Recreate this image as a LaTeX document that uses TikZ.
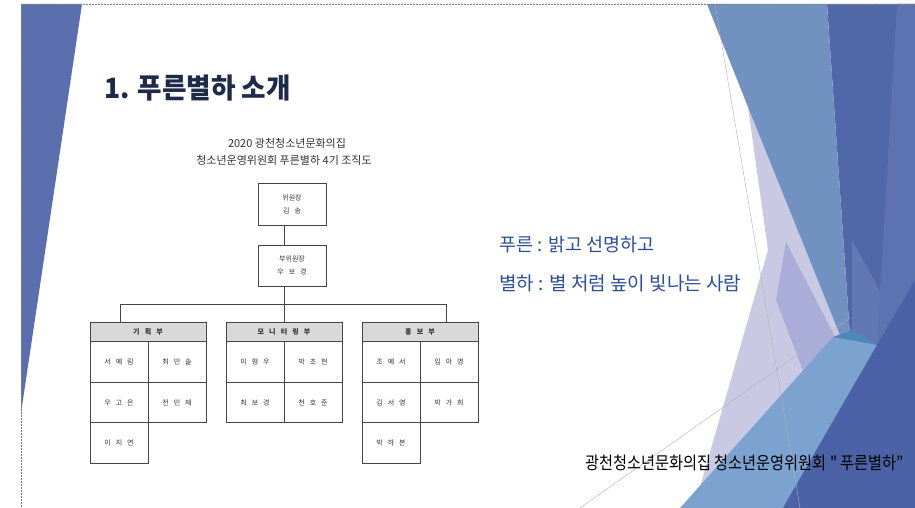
\documentclass[tikz,border=0pt]{standalone}
\usepackage{fontspec}
\setmainfont{Noto Sans CJK KR}
\newfontfamily\krnarrow[FakeStretch=0.87]{Noto Sans CJK KR}
\newfontfamily\krtitle[FakeStretch=0.95]{Noto Sans CJK KR}
\newfontfamily\chartfont[WordSpace=3.2]{Noto Sans CJK KR}
\definecolor{leftblue}{HTML}{5B6EAE}
\definecolor{fdark}{HTML}{5068A8}
\definecolor{fmed}{HTML}{6178B4}
\definecolor{fstrip}{HTML}{5D72B0}
\definecolor{flav}{HTML}{C9C9E3}
\definecolor{fmidlav}{HTML}{A9ADD7}
\definecolor{flblue}{HTML}{7191C1}
\definecolor{fteal}{HTML}{4F87B9}
\definecolor{fbotlb}{HTML}{7CA2D0}
\definecolor{fdk}{HTML}{4B63A6}
\definecolor{titlecol}{HTML}{1E2A4A}
\definecolor{bluetext}{HTML}{2D4D9C}
\definecolor{boxline}{HTML}{454545}
\definecolor{headfill}{HTML}{D9D9D9}
\definecolor{charttext}{HTML}{333333}
\tikzset{
  thinline/.style={draw=gray!60, line width=0.4pt},
  orgbox/.style={draw=boxline, line width=0.8pt, fill=white, inner sep=0pt,
    align=center, text=charttext, font=\chartfont\fontsize{7}{11}\selectfont},
  headbox/.style={orgbox, fill=headfill, minimum width=116pt, minimum height=20pt,
    font=\chartfont\bfseries\fontsize{7}{9}\selectfont},
  cellbox/.style={orgbox, minimum width=58pt, minimum height=40.5pt},
  conn/.style={draw=boxline, line width=0.9pt},
}
\begin{document}
\begin{tikzpicture}[x=1pt,y=-1pt]
\useasboundingbox (0,0) rectangle (915,508);
\fill[white] (0,0) rectangle (915,508);
% left facet
\fill[leftblue] (21,4) -- (82,4) -- (21,413) -- cycle;
% right facets
\fill[fdark] (827,4) -- (915,4) -- (915,508) -- (783,508) -- (852,365) -- cycle;
\fill[fmed] (852,240) -- (885,300) -- (870,420) -- (852,365) -- cycle;
\fill[fstrip] (897,4) -- (915,4) -- (915,290) -- (877,345) -- cycle;
\fill[flav] (748,107) -- (852,365) -- (790,440) -- (694,508) -- (768,250) -- cycle;
\fill[flblue] (707,4) -- (827,4) -- (852,365) -- (748,107) -- cycle;
\fill[fmidlav] (786,242) -- (848,362) -- (815,402) -- (776,300) -- cycle;
\fill[fteal] (833,337) -- (852,330) -- (877,345) -- (858,372) -- cycle;
\fill[fbotlb] (680,508) -- (833,337) -- (877,345) -- (783,508) -- cycle;
\fill[fdk] (783,508) -- (877,345) -- (915,280) -- (915,508) -- cycle;
\draw[thinline] (715,4) -- (800,508);
\draw[thinline] (580,508) -- (850,318);
\draw[densely dotted, gray, line width=0.5pt] (21,508) -- (21,4) -- (915,4);

% title
\node[anchor=west, inner sep=0pt, text=titlecol, font=\krtitle\bfseries\fontsize{28}{31}\selectfont] (title) at (104,88) {1. 푸른별하 소개};

% chart heading
\node[text=charttext, inner sep=0pt, font=\fontsize{11}{13}\selectfont] (head1) at (287,143) {2020 광천청소년문화의집};
\node[text=charttext, inner sep=0pt, font=\fontsize{11}{13}\selectfont] (head2) at (284,160) {청소년운영위원회 푸른별하 4기 조직도};

% top boxes
\node[orgbox, minimum width=68pt, minimum height=42pt] (chair) at (292,204) {위원장\\[2pt]김 송};
\node[orgbox, minimum width=68pt, minimum height=41pt] (vice) at (292,265.5) {부위원장\\[2pt]우 보 경};

% junction coordinates
\coordinate (hub) at (284,304);
\coordinate (jl) at (120,304);
\coordinate (jr) at (446,304);

% department headers
\node[headbox] (d1) at (148,332) {기 획 부};
\node[headbox] (d2) at (284,332) {모 니 터 링 부};
\node[headbox] (d3) at (420,332) {홍 보 부};

% connectors
\draw[conn] (chair.south -| hub) -- (vice.north -| hub);
\draw[conn] (vice.south -| hub) -- (hub);
\draw[conn] (jl) -- (jr);
\draw[conn] (jl) -- (d1.north -| jl);
\draw[conn] (hub) -- (d2.north);
\draw[conn] (jr) -- (d3.north -| jr);

% group 1 cells
\node[cellbox] (a11) at (119,362) {서 예 림};
\node[cellbox] (a12) at (177,362) {최 민 솔};
\node[cellbox] (a21) at (119,402.5) {우 고 은};
\node[cellbox] (a22) at (177,402.5) {전 민 재};
\node[cellbox] (a31) at (119,443) {이 지 연};
% group 2 cells
\node[cellbox] (b11) at (255,362) {이 형 우};
\node[cellbox] (b12) at (313,362) {박 초 현};
\node[cellbox] (b21) at (255,402.5) {최 보 경};
\node[cellbox] (b22) at (313,402.5) {천 호 준};
% group 3 cells
\node[cellbox] (c11) at (391,362) {조 예 서};
\node[cellbox] (c12) at (449,362) {임 아 영};
\node[cellbox] (c21) at (391,402.5) {김 서 영};
\node[cellbox] (c22) at (449,402.5) {박 가 희};
\node[cellbox] (c31) at (391,443) {박 하 본};

% right texts
\node[anchor=west, inner sep=0pt, text=bluetext, font=\fontsize{18.5}{22}\selectfont] (def1) at (499,245) {푸른 : 밝고 선명하고};
\node[anchor=west, inner sep=0pt, text=bluetext, font=\fontsize{19}{22}\selectfont] (def2) at (499,283) {별하 : 별 처럼 높이 빛나는 사람};

% bottom text
\node[anchor=west, inner sep=0pt, text=black, font=\krnarrow\fontsize{17.5}{20}\selectfont] (foot) at (585,463) {광천청소년문화의집 청소년운영위원회 " 푸른별하”};
\end{tikzpicture}
\end{document}
